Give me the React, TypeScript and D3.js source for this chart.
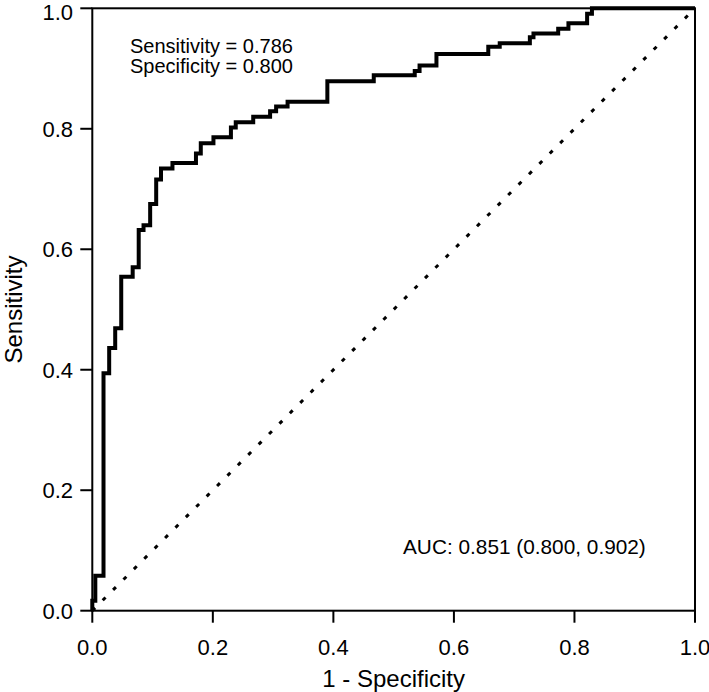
import React from "react";
import * as d3 from "d3";

// ROC curve corner points (1 - specificity, sensitivity)
const fpr = [0, 0, 0.005, 0.0186, 0.028, 0.038, 0.048, 0.067, 0.077, 0.085, 0.096, 0.106, 0.114, 0.133, 0.172, 0.180, 0.201, 0.230, 0.238, 0.267, 0.295, 0.305, 0.324, 0.390, 0.467, 0.535, 0.543, 0.571, 0.657, 0.676, 0.726, 0.732, 0.773, 0.790, 0.821, 0.829, 1.0];
const tpr = [0, 0.0166, 0.058, 0.394, 0.436, 0.469, 0.5545, 0.570, 0.632, 0.640, 0.675, 0.716, 0.734, 0.743, 0.759, 0.776, 0.786, 0.802, 0.811, 0.820, 0.829, 0.837, 0.845, 0.879, 0.889, 0.896, 0.905, 0.924, 0.936, 0.942, 0.952, 0.958, 0.966, 0.975, 0.991, 1.0, 1.0];

const tickValues = [0, 0.2, 0.4, 0.6, 0.8, 1.0];
const xTitle = "1 - Specificity";
const yTitle = "Sensitivity";
const noteLines = ["Sensitivity = 0.786", "Specificity = 0.800"];
const aucText = "AUC: 0.851 (0.800, 0.902)";

const W = 709;
const H = 692;
const L = 92.3;
const R = 695;
const T = 8.3;
const B = 610.7;
const FONT = "Arial, 'Liberation Sans', sans-serif";

export default function App() {
  const x = d3.scaleLinear().domain([0, 1]).range([L, R]);
  const y = d3.scaleLinear().domain([0, 1]).range([B, T]);
  const pts: [number, number][] = fpr.map((f, i) => [f, tpr[i]]);
  const line = d3
    .line<[number, number]>()
    .x((d) => x(d[0]))
    .y((d) => y(d[1]))
    .curve(d3.curveStepAfter);
  const fmt = d3.format(".1f");

  return (
    <svg
      width={W}
      height={H}
      style={{ position: "absolute", left: 0, top: 0, background: "#fff" }}
      fontFamily={FONT}
    >
      <rect x={0} y={0} width={W} height={H} fill="#fff" />
      {/* diagonal reference */}
      <line
        x1={x(0)}
        y1={y(0)}
        x2={x(1)}
        y2={y(1)}
        stroke="#000"
        strokeWidth={3}
        strokeDasharray="4,10.7"
      />
      {/* ROC curve */}
      <path d={line(pts) || ""} fill="none" stroke="#000" strokeWidth={4} strokeLinejoin="miter" />
      {/* frame */}
      <rect x={L} y={T} width={R - L} height={B - T} fill="none" stroke="#000" strokeWidth={2} />
      {/* x ticks */}
      {tickValues.map((t) => (
        <g key={"x" + t}>
          <line x1={x(t)} x2={x(t)} y1={B} y2={B + 12} stroke="#000" strokeWidth={2} />
          <text x={x(t)} y={655} fontSize={22} textAnchor="middle" fill="#000">
            {fmt(t)}
          </text>
        </g>
      ))}
      {/* y ticks */}
      {tickValues.map((t) => (
        <g key={"y" + t}>
          <line x1={L - 12} x2={L} y1={y(t)} y2={y(t)} stroke="#000" strokeWidth={2} />
          <text x={73} y={Math.max(y(t) + 8, 20)} fontSize={22} textAnchor="end" fill="#000">
            {fmt(t)}
          </text>
        </g>
      ))}
      <text x={(L + R) / 2} y={687} fontSize={24} textAnchor="middle" fill="#000">
        {xTitle}
      </text>
      <text
        transform={`translate(22,${(T + B) / 2}) rotate(-90)`}
        fontSize={24}
        textAnchor="middle"
        fill="#000"
      >
        {yTitle}
      </text>
      {noteLines.map((s, i) => (
        <text key={s} x={130} y={53 + i * 20} fontSize={20} fill="#000">
          {s}
        </text>
      ))}
      <text x={403} y={554} fontSize={20.8} fill="#000">
        {aucText}
      </text>
    </svg>
  );
}
